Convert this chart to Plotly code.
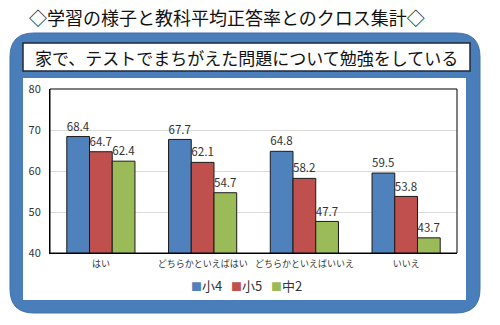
import plotly.graph_objects as go

categories = ["はい", "どちらかといえばはい", "どちらかといえばいいえ", "いいえ"]
series_names = ["小4", "小5", "中2"]
s4 = [68.4, 67.7, 64.8, 59.5]
s5 = [64.7, 62.1, 58.2, 53.8]
c2 = [62.4, 54.7, 47.7, 43.7]
colors = ["#4f81bd", "#c0504d", "#9bbb59"]
title_text = "◇学習の様子と教科平均正答率とのクロス集計◇"
subtitle_text = "家で、テストでまちがえた問題について勉強をしている"

W, H = 500, 325
L, R, T, B = 50, 457, 89, 253


def px(x):
    return (x - L) / (R - L)


def py(y):
    return (B - y) / (B - T)


FONT = "Noto Sans CJK JP"

fig = go.Figure()
for name, vals, col in zip(series_names, [s4, s5, c2], colors):
    fig.add_trace(go.Bar(
        x=categories, y=vals, name=name,
        marker=dict(color=col, line=dict(color="#1a1a1a", width=1)),
        text=[f"{v:.1f}" for v in vals], textposition="outside",
        textfont=dict(size=12, color="#333333", family=FONT),
        cliponaxis=False, showlegend=False,
    ))


def rounded(x0, y0, x1, y1, r):
    def P(x, y):
        return f"{px(x):.5f},{py(y):.5f}"
    return (f"M {P(x0 + r, y0)} L {P(x1 - r, y0)} Q {P(x1, y0)} {P(x1, y0 + r)} "
            f"L {P(x1, y1 - r)} Q {P(x1, y1)} {P(x1 - r, y1)} "
            f"L {P(x0 + r, y1)} Q {P(x0, y1)} {P(x0, y1 - r)} "
            f"L {P(x0, y0 + r)} Q {P(x0, y0)} {P(x0 + r, y0)} Z")


shapes = [
    dict(type="path", xref="paper", yref="paper", path=rounded(10, 33, 480, 313, 24),
         fillcolor="#4a7ebb", line=dict(color="#3f6fa8", width=1), layer="below"),
    dict(type="rect", xref="paper", yref="paper", x0=px(23), x1=px(466), y0=py(78), y1=py(300),
         fillcolor="white", line=dict(width=0), layer="below"),
    dict(type="rect", xref="paper", yref="paper", x0=px(23), x1=px(470), y0=py(43), y1=py(71),
         fillcolor="white", line=dict(color="#1f2a3a", width=1.5), layer="below"),
    dict(type="rect", xref="paper", yref="paper", x0=0, x1=1, y0=0, y1=1,
         fillcolor="rgba(0,0,0,0)", line=dict(color="black", width=1), layer="above"),
]

legend_text = "&nbsp;&nbsp;&nbsp;".join(
    f"<span style='color:{c};font-size:11px'>■</span>{n}" for n, c in zip(series_names, colors))

annotations = [
    dict(text=title_text, xref="paper", yref="paper", x=px(227), y=py(17),
         xanchor="center", yanchor="middle", showarrow=False,
         font=dict(size=18, color="#111111", family=FONT)),
    dict(text=subtitle_text, xref="paper", yref="paper", x=px(246), y=py(57),
         xanchor="center", yanchor="middle", showarrow=False,
         font=dict(size=17, color="#111111", family=FONT)),
    dict(text=legend_text, xref="paper", yref="paper", x=px(246), y=py(285),
         xanchor="center", yanchor="middle", showarrow=False,
         font=dict(size=13, color="#333333", family=FONT)),
]

fig.update_layout(
    width=W, height=H,
    margin=dict(l=L, r=W - R, t=T, b=H - B, pad=0),
    paper_bgcolor="white", plot_bgcolor="rgba(0,0,0,0)",
    barmode="group", bargap=0.33, bargroupgap=0,
    shapes=shapes, annotations=annotations,
    font=dict(family=FONT, color="#333333"),
    showlegend=False,
)
fig.update_yaxes(range=[40, 80], dtick=10, showgrid=True, gridcolor="#d9d9d9", gridwidth=1,
                 showline=True, linecolor="black", ticks="", tickfont=dict(size=11, color="#333333"),
                 zeroline=False, ticklabelstandoff=6)
fig.update_xaxes(showline=True, linecolor="black", ticks="", tickangle=0,
                 tickfont=dict(size=9, color="#333333"), showgrid=False, ticklabelstandoff=2)

fig.write_html("out.html")
